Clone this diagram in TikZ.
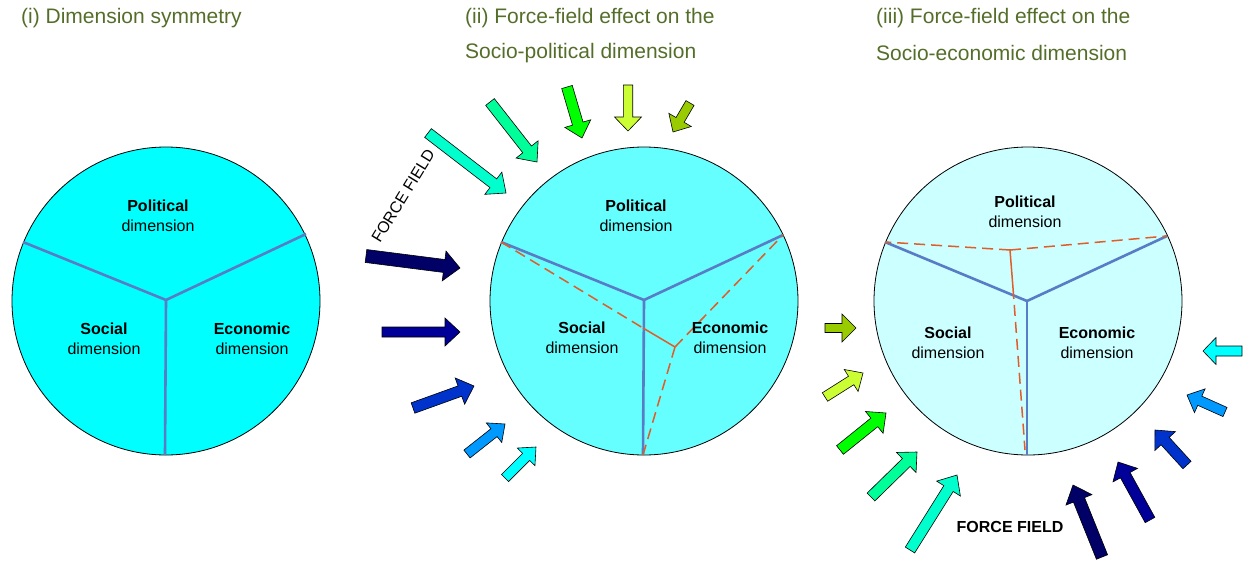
\documentclass[tikz,border=0pt]{standalone}
\usepackage{fontspec}
\setmainfont{Liberation Sans}
\usetikzlibrary{calc}
\definecolor{titlec}{RGB}{84,110,42}
\definecolor{segc}{RGB}{88,124,198}
\definecolor{redc}{RGB}{226,92,40}
\definecolor{fillA}{HTML}{00FFFF}
\definecolor{fillB}{HTML}{66FFFF}
\definecolor{fillC}{HTML}{CCFFFF}
\definecolor{k1}{HTML}{000066}
\definecolor{k2}{HTML}{000099}
\definecolor{k3}{HTML}{0033CC}
\definecolor{k4}{HTML}{0099FF}
\definecolor{k5}{HTML}{00FFFF}
\definecolor{k6}{HTML}{00FFCC}
\definecolor{k7}{HTML}{00FF99}
\definecolor{k8}{HTML}{00FF00}
\definecolor{k9}{HTML}{CCFF33}
\definecolor{k10}{HTML}{99CC00}
\tikzset{
  arrowbox/.style={draw=black, line width=0.6pt, line join=miter},
  dimcircle/.style={draw=black, line width=0.8pt},
  segline/.style={draw=segc, line width=2.6pt},
  shiftline/.style={draw=redc, line width=1.5pt},
  shiftdash/.style={shiftline, dash pattern=on 11pt off 6pt},
  dimlabel/.style={align=center, font=\fontsize{16}{20}\selectfont, inner sep=0pt},
  titletext/.style={anchor=west, text=titlec, font=\fontsize{21}{25}\selectfont, inner sep=0pt},
}
% name, colour, tail, tip, shaft half width, head half width, head length
\newcommand\farrow[7]{%
  \coordinate (#1t) at #3; \coordinate (#1p) at #4;
  \coordinate (#1h) at ($(#1p)!#7!(#1t)$);
  \filldraw[arrowbox, fill=#2] ($(#1t)!#5!90:(#1p)$) -- ($(#1h)!#5!90:(#1p)$)
    -- ($(#1h)!#6!90:(#1p)$) -- (#1p) -- ($(#1h)!#6!-90:(#1p)$)
    -- ($(#1h)!#5!-90:(#1p)$) -- ($(#1t)!#5!-90:(#1p)$) -- cycle;}
\begin{document}
\begin{tikzpicture}[x=1pt, y=-1pt]
\useasboundingbox (0,0) rectangle (1251,560);

% titles
\node[titletext] (t1) at (21,18) {(i) Dimension symmetry};
\node[titletext] (t2a) at (465,18) {(ii) Force-field effect on the};
\node[titletext] (t2b) at (465,53) {Socio-political dimension};
\node[titletext] (t3a) at (876,18) {(iii) Force-field effect on the};
\node[titletext] (t3b) at (876,53) {Socio-economic dimension};

% circle 1
\filldraw[dimcircle, fill=fillA] (166,301) circle (154);
\coordinate (c1o) at (166,300);
\coordinate (c1l) at (23,242);
\coordinate (c1r) at (306,234);
\coordinate (c1b) at (165,455);
\draw[segline] (c1l) -- (c1o) -- (c1r);
\draw[segline] (c1o) -- (c1b);
\node[dimlabel] (p1) at (158,216) {\bfseries Political\\dimension};
\node[dimlabel] (s1) at (104,339) {\bfseries Social\\dimension};
\node[dimlabel] (e1) at (252,339) {\bfseries Economic\\dimension};

% circle 2
\filldraw[dimcircle, fill=fillB] (644,301) circle (154);
\coordinate (c2o) at (644,300);
\coordinate (c2l) at (501,242);
\coordinate (c2r) at (783,235);
\coordinate (c2b) at (643,455);
\draw[segline] (c2l) -- (c2o) -- (c2r);
\draw[segline] (c2o) -- (c2b);
\coordinate (c2j) at (675,347);
\coordinate (c2m) at (643,328);
\draw[shiftdash] (c2l) -- (c2m);
\draw[shiftline] (c2m) -- (c2j);
\draw[shiftdash] (c2j) -- (c2r);
\draw[shiftdash] (c2j) -- (c2b);
\node[dimlabel] (p2) at (636,216) {\bfseries Political\\dimension};
\node[dimlabel] (s2) at (582,338) {\bfseries Social\\dimension};
\node[dimlabel] (e2) at (730,338) {\bfseries Economic\\dimension};

% circle 3
\filldraw[dimcircle, fill=fillC] (1028,301) circle (154);
\coordinate (c3o) at (1027,301);
\coordinate (c3l) at (885,242);
\coordinate (c3r) at (1167,236);
\coordinate (c3b) at (1027,455);
\draw[segline] (c3l) -- (c3o) -- (c3r);
\draw[segline] (c3o) -- (c3b);
\coordinate (c3j) at (1010,250);
\coordinate (c3m) at (1013,288);
\coordinate (c3e) at (1025,450);
\draw[shiftdash] (c3j) -- (c3l);
\draw[shiftdash] (c3j) -- (c3r);
\draw[shiftline] (c3j) -- (c3m);
\draw[shiftdash] (c3m) -- (c3e);
\node[dimlabel] (p3) at (1025,212) {\bfseries Political\\dimension};
\node[dimlabel] (s3) at (948,343) {\bfseries Social\\dimension};
\node[dimlabel] (e3) at (1097,343) {\bfseries Economic\\dimension};

% force field arrows, panel ii
\farrow{a1}{k1}{(366,256)}{(460,268)}{6.5pt}{15pt}{16pt}
\farrow{a2}{k2}{(382,332)}{(460,332)}{5pt}{14pt}{15pt}
\farrow{a3}{k3}{(413,408)}{(474,386)}{5.5pt}{14pt}{15pt}
\farrow{a4}{k4}{(467,454)}{(505,424)}{5pt}{12.5pt}{14pt}
\farrow{a5}{k5}{(505,478)}{(536,447)}{5pt}{12.5pt}{14pt}
\farrow{a6}{k6}{(428,133)}{(506,193)}{5.5pt}{14pt}{16pt}
\farrow{a7}{k7}{(490,102)}{(537,162)}{5.5pt}{14pt}{16pt}
\farrow{a8}{k8}{(567,87)}{(582,138)}{5.5pt}{13.5pt}{15pt}
\farrow{a9}{k9}{(628,85)}{(628,131)}{4.7pt}{13.5pt}{14pt}
\farrow{a10}{k10}{(690,103)}{(673,132)}{4.7pt}{13pt}{14pt}
\node[font=\fontsize{16}{20}\selectfont, rotate=58.5, inner sep=0pt] (ff1) at (403,196) {FORCE FIELD};

% force field arrows, panel iii
\farrow{b1}{k10}{(825,328)}{(856,328)}{4.5pt}{14pt}{14pt}
\farrow{b2}{k9}{(825,397)}{(863,373)}{5pt}{13pt}{14pt}
\farrow{b3}{k8}{(840,450)}{(886,413)}{5.5pt}{14pt}{15pt}
\farrow{b4}{k7}{(871,497)}{(917,452)}{5.5pt}{14pt}{15pt}
\farrow{b5}{k6}{(910,550)}{(957,475)}{5.5pt}{14pt}{16pt}
\farrow{b6}{k5}{(1242,351)}{(1203,351)}{5pt}{13.5pt}{13pt}
\farrow{b7}{k4}{(1225,412)}{(1187,395)}{5pt}{13pt}{14pt}
\farrow{b8}{k3}{(1187,465)}{(1155,430)}{5.5pt}{14pt}{15pt}
\farrow{b9}{k2}{(1150,520)}{(1118,462)}{5.5pt}{14pt}{15pt}
\farrow{b10}{k1}{(1102,557)}{(1073,485)}{6pt}{14pt}{16pt}
\node[font=\bfseries\fontsize{16}{20}\selectfont, inner sep=0pt] (ff2) at (1010,527) {FORCE FIELD};
\end{tikzpicture}
\end{document}
